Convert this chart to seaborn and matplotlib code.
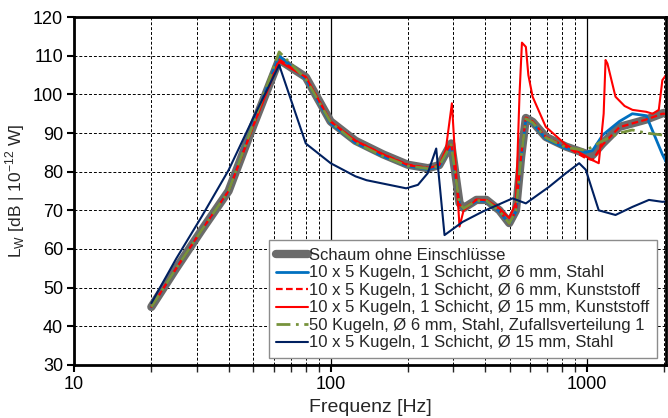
import seaborn as sns
import matplotlib.pyplot as plt
from matplotlib.ticker import LogLocator, NullFormatter, FixedLocator, FixedFormatter

# Data
freq = [20, 25, 31.5, 40, 50, 63, 80, 100, 125, 160, 200, 240, 265, 295, 318, 330,
        370, 405, 455, 497, 528, 553, 577, 613, 690, 826, 988, 1050, 1150, 1335,
        1500, 1700, 1965, 2030]

schaum = [45, 55, 65, 75, 92, 109, 104.5, 93, 88, 84.5, 81.8, 80.9, 81.7, 87.3, 71.9, 70.6,
          72.7, 72.7, 70, 66.7, 70, 83.9, 93.9, 92.9, 89, 86.5, 84.7, 84.3, 87.3, 91.6,
          92.5, 93.5, 95.1, 95.3]
stahl_6 = [45, 55, 65, 75, 92.5, 110, 104, 92.5, 87.5, 84, 81.5, 80.6, 81.4, 86.8, 71.5, 70.3,
           72.4, 72.4, 69.7, 66.5, 69.7, 83.5, 93.5, 92.5, 88.5, 86, 85, 85.5, 89.5, 93,
           95, 94.5, 84.5, 82.6]
kunst_6 = [45, 55, 65, 75, 92, 109, 104.5, 93, 88, 84.5, 81.8, 81, 81.8, 87.5, 71.5, 70.5,
           72.8, 72.6, 70, 66.5, 70, 84, 94, 93, 89, 86.5, 83.5, 83, 87, 91.5,
           92.5, 93.5, 95, 95]
zufall_6 = [45, 55, 65, 75, 92.5, 111, 104, 92.8, 87.5, 84, 81.5, 80.8, 81.5, 87, 71.7, 70.5,
            72.5, 72.5, 69.8, 66.6, 69.8, 83.7, 93.7, 92.7, 88.8, 86.3, 85.5, 86.5, 88, 90,
            90.8, 90, 89.5, 89.5]

freq_k15 = [20, 25, 31.5, 40, 50, 63, 80, 100, 125, 160, 200, 240, 265, 281, 297, 305, 318,
            330, 370, 405, 455, 497, 528, 545, 557, 577, 590, 613, 690, 826, 988, 1048,
            1110, 1160, 1180, 1200, 1290, 1400, 1503, 1700, 1800, 1903, 1965, 2030]
kunst_15 = [45, 55, 65, 75, 92, 108.5, 104.5, 93, 88, 84.5, 81.7, 80.9, 81.7, 85.6, 97.7, 85,
            65.8, 70, 72.7, 72.7, 70.5, 68, 72, 100, 113.4, 112.3, 105, 99.4, 91.6, 87, 84,
            83, 82.2, 95, 108.9, 108, 99.4, 97, 96, 95.5, 95, 96, 103.7, 105]

freq_s15 = [20, 25, 31.5, 40, 50, 63, 80, 100, 125, 138, 197, 219, 239, 258, 278, 327, 392,
            512, 577, 711, 826, 931, 988, 1110, 1290, 1503, 1742, 1965, 2030]
stahl_15 = [46, 57.5, 68.5, 80.4, 94, 107.6, 87.3, 82.2, 78.8, 77.8, 75.7, 76.6, 79.6, 86,
            63.6, 67, 69.7, 73.1, 71.8, 76.1, 79.6, 82.2, 80.5, 70, 68.8, 70.9, 72.7, 72.2,
            72.3]

labels = ['Schaum ohne Einschlüsse',
          '10 x 5 Kugeln, 1 Schicht, Ø 6 mm, Stahl',
          '10 x 5 Kugeln, 1 Schicht, Ø 6 mm, Kunststoff',
          '10 x 5 Kugeln, 1 Schicht, Ø 15 mm, Kunststoff',
          '50 Kugeln, Ø 6 mm, Stahl, Zufallsverteilung 1',
          '10 x 5 Kugeln, 1 Schicht, Ø 15 mm, Stahl']

sns.set_style('white')
plt.rcParams['font.family'] = ['Liberation Sans', 'DejaVu Sans']

fig = plt.figure(figsize=(6.68, 4.18), dpi=100)
ax = fig.add_axes([0.111, 0.127, 0.886, 0.832])

series = [
    (freq, schaum, dict(color='#6b6b6b', lw=6, solid_capstyle='round')),
    (freq, stahl_6, dict(color='#0070c0', lw=2)),
    (freq, kunst_6, dict(color='#ff0000', lw=1.6, dashes=(3, 1.5))),
    (freq_k15, kunst_15, dict(color='#ff0000', lw=1.5)),
    (freq, zufall_6, dict(color='#77933c', lw=2, dashes=(5, 2, 1, 2))),
    (freq_s15, stahl_15, dict(color='#002060', lw=1.5)),
]
for (x, y, kw), lab in zip(series, labels):
    dash = kw.pop('dashes', None)
    line = sns.lineplot(x=x, y=y, ax=ax, label=lab, sort=False, **kw).lines[-1]
    if dash:
        line.set_dashes(dash)

ax.set_xscale('log')
ax.set_xlim(10, 2030)
ax.set_ylim(30, 120)
ax.set_yticks(range(30, 121, 10))
ax.xaxis.set_major_locator(FixedLocator([10, 100, 1000]))
ax.xaxis.set_major_formatter(FixedFormatter(['10', '100', '1000']))
ax.xaxis.set_minor_locator(LogLocator(base=10, subs=range(2, 10)))
ax.xaxis.set_minor_formatter(NullFormatter())

ax.grid(True, which='major', axis='x', color='black', lw=0.9, ls='-')
ax.grid(True, which='minor', axis='x', color='black', lw=0.7, ls=(0, (3, 2)))
ax.grid(True, which='major', axis='y', color='black', lw=0.7, ls=(0, (3, 2)))

for s in ax.spines.values():
    s.set_linewidth(2)
    s.set_color('black')

ax.tick_params(axis='both', which='major', direction='out', length=5, width=1.5, pad=3,
               labelsize=13, color='black', labelcolor='black', left=True, bottom=True)
ax.tick_params(axis='x', which='minor', direction='out', length=5, width=1, bottom=True)

ax.set_xlabel('Frequenz [Hz]', fontsize=14, labelpad=4)
ax.set_ylabel(r'L$_{\mathregular{W}}$ [dB | 10$^{\mathregular{-12}}$ W]', fontsize=12.5, labelpad=4)

leg = ax.legend(loc='lower right', bbox_to_anchor=(0.985, 0.02), borderaxespad=0,
                fontsize=12, handlelength=1.9, handletextpad=0.1, labelspacing=0.15,
                frameon=True, fancybox=False, framealpha=1, edgecolor='#8c8c8c',
                borderpad=0.45)
leg.get_frame().set_linewidth(1)

fig.savefig('out.png', dpi=100)
